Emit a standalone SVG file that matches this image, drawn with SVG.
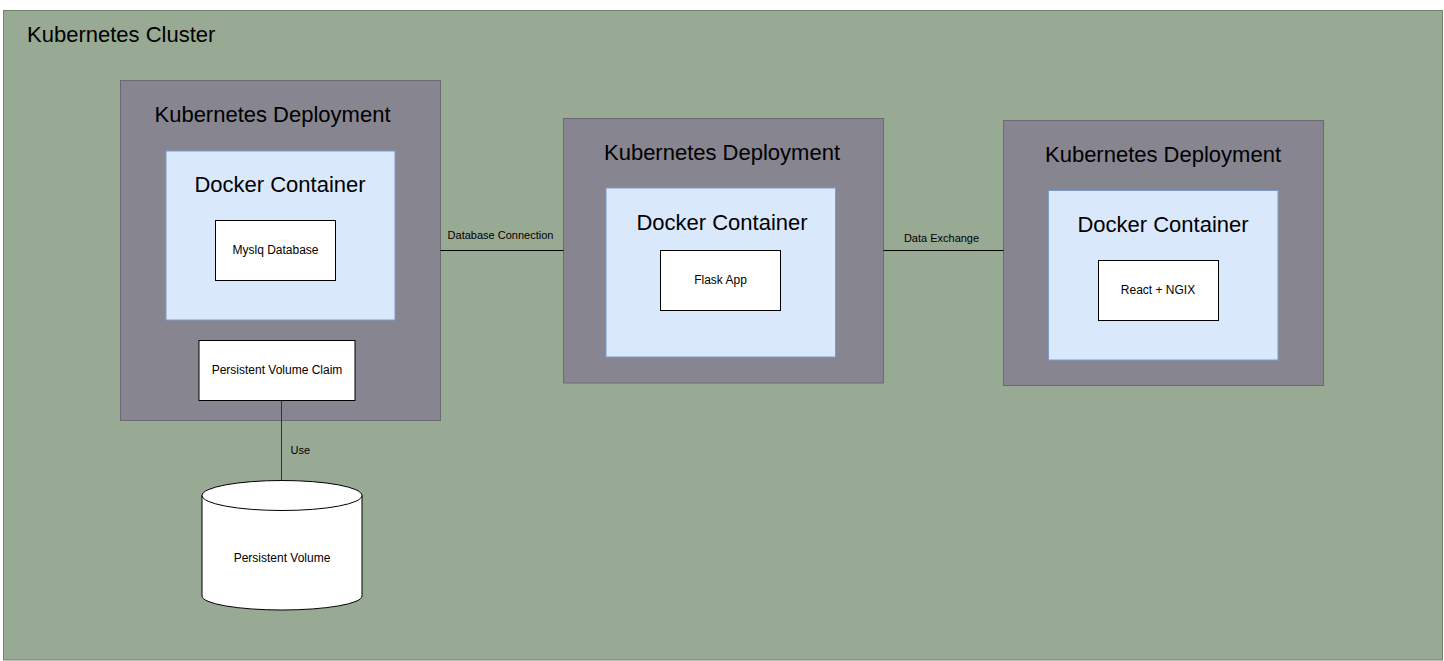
<svg xmlns="http://www.w3.org/2000/svg" width="1444" height="661" viewBox="0 0 1444 661">
<style>
text{font-family:"Liberation Sans",Arial,sans-serif;fill:#000}
.t20{font-size:22px}
.t12{font-size:12px}
.t11{font-size:11px}
.mid{text-anchor:middle}
.cluster{fill:#99aa94;stroke:#6f8768;stroke-width:1}
.dep{fill:#87858f;stroke:#6b6a74;stroke-width:1}
.dock{fill:#dae8fc;stroke:#7f9cc8;stroke-width:1}
.box{fill:#fff;stroke:#000;stroke-width:1}
.edge{fill:none;stroke:#000;stroke-width:1}
</style>
<rect width="1444" height="661" fill="#fff"/>
<g id="cluster">
<rect class="cluster" x="3.5" y="10.5" width="1439" height="649.5"/>
<text class="t20" x="27" y="42">Kubernetes Cluster</text>
</g>
<g id="deployment-mysql">
<rect class="dep" x="120.5" y="80.5" width="320" height="340"/>
<text class="t20 mid" x="272.5" y="122">Kubernetes Deployment</text>
</g>
<g id="container-mysql">
<rect class="dock" x="166" y="151" width="229" height="169"/>
<text class="t20 mid" x="280" y="192">Docker Container</text>
</g>
<g id="mysql">
<rect class="box" x="215.5" y="220.5" width="120" height="60"/>
<text class="t12 mid" x="275.5" y="254">Myslq Database</text>
</g>
<g id="pvc">
<rect class="box" x="199" y="340.5" width="156" height="60"/>
<text class="t12 mid" x="277" y="374">Persistent Volume Claim</text>
</g>
<g id="deployment-flask">
<rect class="dep" x="563.5" y="118.5" width="320" height="264.5"/>
<text class="t20 mid" x="722" y="160">Kubernetes Deployment</text>
</g>
<g id="container-flask">
<rect class="dock" x="606" y="188" width="229.5" height="169"/>
<text class="t20 mid" x="722" y="230">Docker Container</text>
</g>
<g id="flask">
<rect class="box" x="660.5" y="250.5" width="120" height="60"/>
<text class="t12 mid" x="720.5" y="284">Flask App</text>
</g>
<g id="deployment-react">
<rect class="dep" x="1003.5" y="120.5" width="320" height="265"/>
<text class="t20 mid" x="1163" y="162">Kubernetes Deployment</text>
</g>
<g id="container-react">
<rect class="dock" x="1048.5" y="190.5" width="229.5" height="169.5"/>
<text class="t20 mid" x="1163" y="232">Docker Container</text>
</g>
<g id="react">
<rect class="box" x="1098.5" y="260.5" width="120" height="60"/>
<text class="t12 mid" x="1158" y="294">React + NGIX</text>
</g>
<g id="pv">
<path class="box" d="M202,495.5 L202,596 A80,14 0 0 0 362,596 L362,495.5 A80,15 0 0 0 202,495.5 Z"/>
<path class="box" style="fill:none" d="M202,495.5 A80,15 0 0 0 362,495.5"/>
<text class="t12 mid" x="282" y="562">Persistent Volume</text>
</g>
<g id="connectors">
<path class="edge" d="M440.5,250.5 L563.5,250.5"/>
<text class="t11 mid" x="500.5" y="239">Database Connection</text>
<path class="edge" d="M883.5,250.5 L1003.5,250.5"/>
<text class="t11 mid" x="941.5" y="242">Data Exchange</text>
<path class="edge" style="stroke:#333" d="M281.5,400.5 L281.5,480.5"/>
<text class="t11" x="290.5" y="454">Use</text>
</g>
</svg>
